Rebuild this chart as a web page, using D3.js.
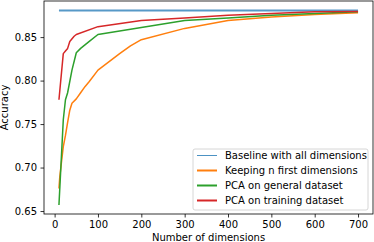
<!DOCTYPE html>
<meta charset="utf-8">
<script src="https://d3js.org/d3.v7.min.js"></script>
<style>
  body { margin: 0; background: #fff; }
  text { font-family: "DejaVu Sans", sans-serif; }
</style>
<div id="chart"></div>
<script>

    // data
    var baselineX = [10, 700];
    var baselineY = [0.8806, 0.8806];

    var keepX = [10, 12, 20, 25, 30, 35, 40, 50, 60, 70, 80, 100, 150, 175, 200, 300, 400, 500, 600, 700];
    var keepY = [0.676, 0.690, 0.724, 0.737, 0.752, 0.766, 0.774, 0.779, 0.786, 0.793, 0.799, 0.812, 0.831, 0.840, 0.847, 0.860, 0.869, 0.873, 0.876, 0.878];

    var generalX = [10, 20, 25, 30, 40, 50, 60, 70, 80, 100, 200, 300, 400, 500, 600, 700];
    var generalY = [0.657, 0.755, 0.778, 0.786, 0.812, 0.832, 0.837, 0.841, 0.845, 0.853, 0.861, 0.869, 0.872, 0.875, 0.877, 0.879];

    var trainX = [10, 20, 25, 30, 35, 45, 50, 100, 200, 300, 400, 500, 600, 700];
    var trainY = [0.778, 0.831, 0.834, 0.837, 0.845, 0.851, 0.853, 0.862, 0.869, 0.872, 0.875, 0.877, 0.879, 0.8795];

    var xTicks = [0, 100, 200, 300, 400, 500, 600, 700];
    var yTicks = [0.65, 0.70, 0.75, 0.80, 0.85];

    var seriesNames = ["Baseline with all dimensions", "Keeping n first dimensions", "PCA on general dataset", "PCA on training dataset"];
    var colors = ["#1f77b4", "#ff7f0e", "#2ca02c", "#d62728"];

    var margin = {top: 1, right: 1, bottom: 28, left: 44},
        width = 374 - margin.left - margin.right,
        height = 242 - margin.top - margin.bottom;

    var svg = d3.select("#chart")
      .append("svg")
        .attr("width", 374)
        .attr("height", 242)
      .append("g")
        .attr("transform", "translate(" + margin.left + "," + margin.top + ")");

    var x = d3.scaleLinear().domain([-24.5, 734.5]).range([0, width]);
    var y = d3.scaleLinear().domain([0.6466, 0.8915]).range([height, 0]);

    // axes
    var xAxis = svg.append("g")
        .attr("transform", "translate(0," + height + ")")
        .call(d3.axisBottom(x).tickValues(xTicks).tickSize(3.5).tickPadding(3.5).tickFormat(d3.format("d")));
    var yAxis = svg.append("g")
        .call(d3.axisLeft(y).tickValues(yTicks).tickSize(3.5).tickPadding(3.5).tickFormat(d3.format(".2f")));
    [xAxis, yAxis].forEach(function(a) {
        a.select(".domain").remove();
        a.selectAll("text").style("font-size", "10px").attr("fill", "#000");
        a.selectAll("line").attr("stroke", "#000").attr("stroke-width", 0.8);
    });

    // frame
    svg.append("rect")
        .attr("width", width).attr("height", height)
        .attr("fill", "none").attr("stroke", "#000").attr("stroke-width", 0.8);

    var line = d3.line()
        .x(function(d) { return x(d[0]); })
        .y(function(d) { return y(d[1]); });

    var series = [
        {xs: baselineX, ys: baselineY, w: 2.2, op: 0.75},
        {xs: keepX, ys: keepY, w: 1.5, op: 1},
        {xs: generalX, ys: generalY, w: 1.5, op: 1},
        {xs: trainX, ys: trainY, w: 1.5, op: 1}
    ];

    series.forEach(function(s, i) {
        svg.append("path")
            .datum(d3.zip(s.xs, s.ys))
            .attr("d", line)
            .attr("fill", "none")
            .attr("stroke", colors[i])
            .attr("stroke-width", s.w)
            .attr("stroke-opacity", s.op)
            .attr("stroke-linejoin", "round");
    });

    // axis labels
    svg.append("text")
        .attr("x", width / 2)
        .attr("y", height + 27)
        .attr("text-anchor", "middle")
        .style("font-size", "10px")
        .text("Number of dimensions");
    svg.append("text")
        .attr("transform", "rotate(-90)")
        .attr("x", -height / 2)
        .attr("y", -36)
        .attr("text-anchor", "middle")
        .style("font-size", "10px")
        .text("Accuracy");

    // legend
    var lg = svg.append("g").attr("transform", "translate(149,148)");
    lg.append("rect")
        .attr("width", 175).attr("height", 61).attr("rx", 2)
        .attr("fill", "#fff").attr("fill-opacity", 0.8)
        .attr("stroke", "#ccc").attr("stroke-width", 0.8);
    seriesNames.forEach(function(name, i) {
        var yy = 6.5 + i * 15;
        lg.append("line")
            .attr("x1", 4).attr("x2", 24).attr("y1", yy).attr("y2", yy)
            .attr("stroke", colors[i])
            .attr("stroke-width", i === 0 ? 1 : 2)
            .attr("stroke-opacity", i === 0 ? 0.8 : 1);
        lg.append("text")
            .attr("x", 32).attr("y", yy)
            .attr("dy", "0.35em")
            .style("font-size", "10px")
            .text(name);
    });

</script>
